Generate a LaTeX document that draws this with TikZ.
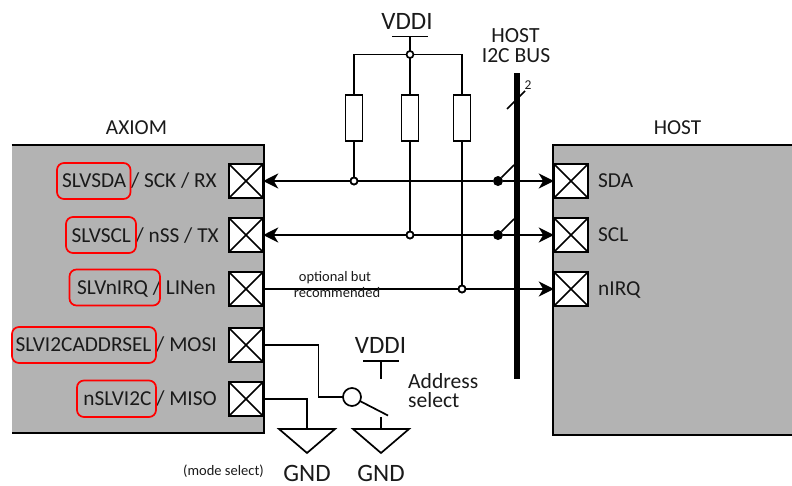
\documentclass[tikz,border=0pt]{standalone}
\usepackage{fontspec}
\setmainfont{Carlito}
\usetikzlibrary{arrows.meta}
\definecolor{boxgray}{HTML}{B3B3B3}
\definecolor{txt}{HTML}{1A1A1A}
\tikzset{
  wire/.style={line width=1.7pt,black},
  pad/.style={draw=black,line width=2pt,fill=white,minimum size=34.5pt,inner sep=0pt,outer sep=0pt,
    path picture={\draw[line width=1.5pt] (path picture bounding box.south west)--(path picture bounding box.north east)
      (path picture bounding box.north west)--(path picture bounding box.south east);}},
  res/.style={draw=black,line width=1.7pt,fill=white,minimum width=17pt,minimum height=45.5pt,inner sep=0pt,outer sep=0pt},
  lab/.style={font=\fontsize{21.3}{21.3}\selectfont,text=txt,inner sep=0pt},
  big/.style={font=\fontsize{25}{25}\selectfont,text=txt,inner sep=0pt},
  mid/.style={font=\fontsize{21.6}{21.6}\selectfont,text=txt,inner sep=0pt},
  addr/.style={font=\fontsize{21.6}{21.6}\selectfont,text=txt,inner sep=0pt},
  small/.style={font=\fontsize{14.5}{14.5}\selectfont,text=txt,inner sep=0pt},
  tiny/.style={font=\fontsize{13.5}{13.5}\selectfont,text=txt,inner sep=0pt},
  redbox/.style={draw=red,line width=1.7pt,rounded corners=7pt},
  open/.style={circle,draw=black,line width=1.7pt,fill=white,minimum size=7pt,inner sep=0pt,outer sep=0pt},
  solid dot/.style={circle,fill=black,minimum size=10pt,inner sep=0pt,outer sep=0pt},
  head/.style={-{Stealth[length=15pt,width=15pt,inset=4.5pt]}},
  gnd/.style={draw=black,line width=1.7pt,line join=miter}
}
\begin{document}
\begin{tikzpicture}[x=1pt,y=-1pt]
\useasboundingbox (0,0) rectangle (792,485);
% boxes
\fill[boxgray] (11.5,145) rectangle (264,433);
\draw[line width=2pt] (11.5,145) -- (264,145) -- (264,433) -- (11.5,433);
\fill[boxgray] (553,145) rectangle (792,435);
\draw[line width=2pt] (792,145) -- (553,145) -- (553,435) -- (792,435);
% pads
\node[pad] (a1) at (246,181) {};
\node[pad] (a2) at (246,235) {};
\node[pad] (a3) at (246,289) {};
\node[pad] (a4) at (246,345) {};
\node[pad] (a5) at (246,399) {};
\node[pad] (h1) at (571,181) {};
\node[pad] (h2) at (571,235) {};
\node[pad] (h3) at (571,289) {};
% labels in boxes
\node[lab,anchor=east] (l1) at (217,181) {SLVSDA / SCK / RX};
\node[lab,anchor=east] (l2) at (219,236) {SLVSCL / nSS / TX};
\node[lab,anchor=east] (l3) at (216,288.5) {SLVnIRQ / LINen};
\node[lab,anchor=east] (l4) at (217,344.5) {SLVI2CADDRSEL / MOSI};
\node[lab,anchor=east] (l5) at (217,399) {nSLVI2C / MISO};
\draw[redbox] (57,163) rectangle (130.5,199);
\draw[redbox] (66,217) rectangle (136,253);
\draw[redbox] (69.5,269.5) rectangle (160,305.5);
\draw[redbox] (12,327) rectangle (156,363);
\draw[redbox] (77,380.5) rectangle (156,417);
\node[lab] (axiom) at (136.5,128) {AXIOM};
\node[lab] (hostt) at (677.5,128) {HOST};
\node[lab,anchor=west] (s1) at (598,181) {SDA};
\node[lab,anchor=west] (s2) at (598,235) {SCL};
\node[lab,anchor=west] (s3) at (598,290) {nIRQ};
% pull-ups
\node[big] (vddi) at (407,21) {VDDI};
\coordinate (barL) at (392,36.5);
\coordinate (barR) at (428,36.5);
\coordinate (barM) at (410,36.5);
\node[open] (top) at (410,54.5) {};
\coordinate (tl) at (354,54.5);
\coordinate (tr) at (462,54.5);
\node[res] (r1) at (354,118) {};
\node[res] (r2) at (410,118) {};
\node[res] (r3) at (462,118) {};
\node[open] (j1) at (354,181) {};
\node[open] (j2) at (410,235) {};
\node[open] (j3) at (462,289) {};
\node[solid dot] (b1) at (498,181) {};
\node[solid dot] (b2) at (498,235) {};
\coordinate (t1) at (514,165);
\coordinate (t2) at (514,219);
\draw[wire] (barL) -- (barR) (barM) -- (top);
\draw[wire] (top) -- (tl) -- (r1.north) (top) -- (r2.north) (top) -- (tr) -- (r3.north);
\draw[wire] (r1.south) -- (j1) (r2.south) -- (j2) (r3.south) -- (j3);
% bus
\coordinate (bt) at (516.5,73);
\coordinate (bb) at (516.5,379);
\draw[line width=6pt] (bt) -- (bb);
\coordinate (sa) at (507,109);
\coordinate (sb) at (525,91);
\draw[line width=1.5pt] (sa) -- (sb);
\node[tiny] (two) at (528,85) {2};
\node[mid] (bus1) at (515.5,36) {HOST};
\node[mid] (bus2) at (516,56) {I2C BUS};
% signals
\draw[wire,head] (j1) -- (a1.east);
\draw[wire,head] (j2) -- (a2.east);
\draw[wire] (j1) -- (b1) (j2) -- (b2);
\draw[wire,head] (b1) -- (h1.west);
\draw[wire,head] (b2) -- (h2.west);
\draw[wire] (b1) -- (t1) (b2) -- (t2);
\draw[wire] (a3.east) -- (j3);
\draw[wire,head] (j3) -- (h3.west);
\node[open] at (j1) {};
\node[open] at (j2) {};
\node[open] at (j3) {};
\node[small] (opt1) at (335,278) {optional but};
\node[small] (opt2) at (337,293) {recommended};
% switch
\node[circle,draw=black,line width=1.7pt,minimum size=18pt,inner sep=0pt,outer sep=0pt] (sw) at (352,397) {};
\coordinate (w1) at (318.5,345);
\coordinate (w2) at (318.5,397);
\draw[wire] (a4.east) -- (w1) -- (w2) -- (sw.west);
\coordinate (lev) at (388,415.5);
\draw[wire] (sw.-27) -- (lev);
\node[big] (vddi2) at (380.5,345) {VDDI};
\coordinate (b2l) at (363,361);
\coordinate (b2r) at (399,361);
\coordinate (b2m) at (381,361);
\coordinate (b2e) at (381,379);
\draw[wire] (b2l) -- (b2r) (b2m) -- (b2e);
\node[addr,anchor=west] (addr1) at (408,381) {Address};
\node[addr,anchor=west] (addr2) at (408,400) {select};
% grounds
\coordinate (g1a) at (279,429);
\coordinate (g1b) at (335,429);
\coordinate (g1c) at (307,453);
\coordinate (g1t) at (307,429);
\coordinate (g2a) at (353,429);
\coordinate (g2b) at (409,429);
\coordinate (g2c) at (381,453);
\coordinate (g2t) at (381,429);
\coordinate (g2s) at (381,417);
\coordinate (cn) at (307,399);
\draw[gnd] (g1a) -- (g1b) -- (g1c) -- cycle;
\draw[gnd] (g2a) -- (g2b) -- (g2c) -- cycle;
\draw[wire] (a5.east) -- (cn) -- (g1t);
\draw[wire] (g2s) -- (g2t);
\node[big] (gnd1) at (307,473) {GND};
\node[big] (gnd2) at (381,473) {GND};
\node[small] (mode) at (223.5,471) {(mode select)};
\end{tikzpicture}
\end{document}
